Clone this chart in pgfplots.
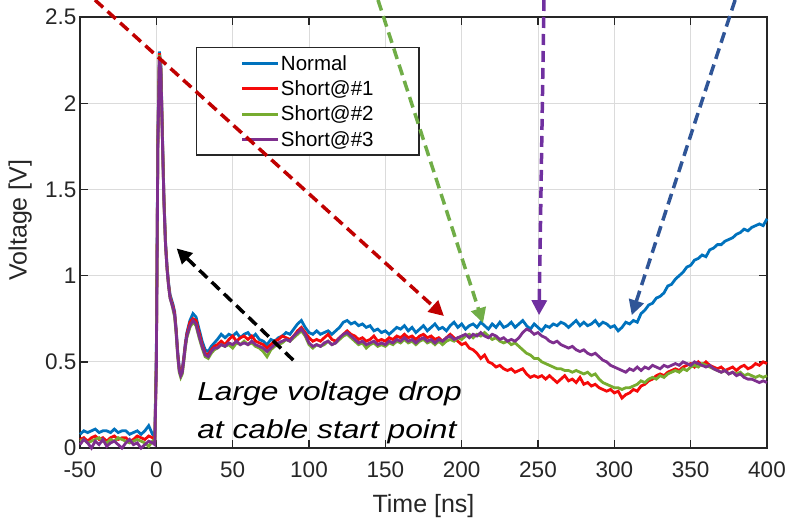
\documentclass[border=0pt]{standalone}
\usepackage{fontspec}
\setmainfont{Liberation Sans}
\usepackage{graphicx}
\usepackage{pgfplots}
\pgfplotsset{compat=1.18}
\usepackage{pgfplotstable}
\usetikzlibrary{arrows.meta}
\definecolor{cN}{RGB}{0,114,189}
\definecolor{cR}{RGB}{245,10,10}
\definecolor{cG}{RGB}{119,172,48}
\definecolor{cP}{RGB}{126,47,142}
\definecolor{aR}{RGB}{192,0,0}
\definecolor{aG}{RGB}{112,173,71}
\definecolor{aP}{RGB}{112,48,160}
\definecolor{aB}{RGB}{47,85,151}
\pgfplotstableread{
x normal s1 s2 s3
-50 0.08 0.05 0.04 0.02
-47.5 0.10 0.06 0.05 0.05
-45 0.09 0.04 0.03 0.03
-42.5 0.10 0.06 0.04 0.00
-40 0.11 0.07 0.05 0.04
-37.5 0.09 0.05 0.06 0.02
-35 0.10 0.06 0.04 0.05
-32.5 0.10 0.04 0.03 0.01
-30 0.09 0.06 0.05 0.03
-27.5 0.11 0.07 0.04 0.04
-25 0.09 0.05 0.06 0.02
-22.5 0.10 0.06 0.05 0.00
-20 0.10 0.06 0.04 0.03
-17.5 0.08 0.04 0.03 0.05
-15 0.09 0.05 0.04 0.02
-12.5 0.10 0.07 0.05 0.03
-10 0.08 0.06 0.04 0.00
-7.5 0.10 0.05 0.03 0.02
-5 0.13 0.07 0.01 0.04
-2.5 0.08 0.06 0.04 0.03
-1 0.07 0.05 0.03 0.02
0 0.55 0.50 0.50 0.45
1 1.80 1.78 1.77 1.75
2 2.30 2.29 2.28 2.27
3 2.22 2.20 2.20 2.18
4 1.82 1.80 1.79 1.78
5 1.45 1.44 1.43 1.42
6 1.20 1.19 1.18 1.18
7 1.06 1.05 1.04 1.04
8 0.96 0.95 0.94 0.94
9 0.89 0.88 0.87 0.87
10 0.86 0.85 0.84 0.84
11 0.83 0.82 0.80 0.81
12 0.79 0.78 0.76 0.77
13 0.69 0.68 0.66 0.67
14 0.56 0.55 0.53 0.54
15 0.47 0.46 0.44 0.45
16 0.44 0.43 0.41 0.42
17 0.46 0.45 0.43 0.44
18 0.53 0.52 0.50 0.51
19 0.61 0.60 0.58 0.59
20 0.67 0.66 0.64 0.65
22 0.74 0.73 0.70 0.71
24 0.78 0.75 0.73 0.74
26 0.76 0.74 0.71 0.72
28 0.69 0.67 0.64 0.65
30 0.62 0.60 0.58 0.59
32 0.57 0.55 0.53 0.54
34 0.56 0.54 0.52 0.53
36 0.59 0.57 0.55 0.56
38 0.61 0.59 0.57 0.58
40 0.63 0.60 0.58 0.58
42.5 0.66 0.62 0.60 0.60
45 0.64 0.60 0.59 0.59
47.5 0.66 0.63 0.60 0.61
50 0.65 0.65 0.58 0.60
52.5 0.67 0.62 0.61 0.62
55 0.64 0.64 0.60 0.60
57.5 0.66 0.65 0.62 0.61
60 0.67 0.63 0.60 0.60
62.5 0.64 0.65 0.61 0.62
65 0.66 0.62 0.59 0.60
67.5 0.63 0.61 0.58 0.59
70 0.62 0.60 0.56 0.58
72.5 0.60 0.58 0.53 0.56
75 0.63 0.60 0.57 0.58
77.5 0.62 0.62 0.59 0.60
80 0.64 0.63 0.60 0.61
82.5 0.65 0.65 0.61 0.62
85 0.67 0.64 0.63 0.63
87.5 0.66 0.63 0.62 0.62
90 0.69 0.65 0.64 0.65
92.5 0.72 0.68 0.66 0.67
95 0.74 0.70 0.68 0.69
97.5 0.70 0.67 0.65 0.66
100 0.67 0.64 0.60 0.61
102.5 0.66 0.62 0.58 0.59
105 0.68 0.63 0.60 0.60
107.5 0.66 0.62 0.59 0.59
110 0.67 0.64 0.60 0.61
112.5 0.68 0.66 0.62 0.62
115 0.66 0.63 0.60 0.60
117.5 0.68 0.62 0.61 0.61
120 0.70 0.64 0.63 0.64
122.5 0.73 0.66 0.65 0.66
125 0.74 0.68 0.66 0.67
127.5 0.72 0.66 0.64 0.65
130 0.73 0.65 0.62 0.63
132.5 0.71 0.63 0.60 0.61
135 0.72 0.64 0.61 0.62
137.5 0.70 0.62 0.58 0.60
140 0.71 0.63 0.60 0.61
142.5 0.68 0.65 0.61 0.62
145 0.69 0.62 0.59 0.60
147.5 0.67 0.63 0.60 0.61
150 0.68 0.62 0.59 0.60
152.5 0.66 0.64 0.61 0.62
155 0.68 0.63 0.60 0.61
157.5 0.70 0.65 0.62 0.63
160 0.69 0.64 0.61 0.62
162.5 0.71 0.66 0.63 0.64
165 0.68 0.64 0.61 0.62
167.5 0.70 0.65 0.62 0.63
170 0.67 0.63 0.60 0.61
172.5 0.69 0.65 0.62 0.63
175 0.71 0.66 0.63 0.64
177.5 0.68 0.64 0.61 0.62
180 0.70 0.65 0.62 0.63
182.5 0.72 0.63 0.60 0.61
185 0.69 0.64 0.62 0.63
187.5 0.70 0.62 0.60 0.62
190 0.68 0.64 0.62 0.64
192.5 0.71 0.66 0.63 0.65
195 0.73 0.64 0.62 0.63
197.5 0.70 0.62 0.64 0.64
200 0.72 0.60 0.63 0.65
202.5 0.69 0.61 0.65 0.66
205 0.71 0.58 0.66 0.64
207.5 0.72 0.57 0.64 0.66
210 0.70 0.55 0.66 0.65
212.5 0.73 0.52 0.65 0.67
215 0.71 0.54 0.67 0.65
217.5 0.69 0.50 0.65 0.64
220 0.72 0.49 0.63 0.66
222.5 0.70 0.47 0.64 0.65
225 0.73 0.48 0.62 0.63
227.5 0.70 0.46 0.61 0.64
230 0.71 0.45 0.62 0.62
232.5 0.73 0.46 0.60 0.63
235 0.70 0.44 0.61 0.62
237.5 0.72 0.45 0.59 0.64
240 0.74 0.46 0.57 0.67
242.5 0.71 0.43 0.55 0.69
245 0.69 0.41 0.54 0.68
247.5 0.72 0.42 0.52 0.66
250 0.70 0.41 0.52 0.67
252.5 0.68 0.42 0.50 0.65
255 0.71 0.40 0.49 0.64
257.5 0.70 0.42 0.48 0.62
260 0.72 0.40 0.47 0.61
262.5 0.71 0.38 0.46 0.62
265 0.73 0.40 0.46 0.60
267.5 0.72 0.42 0.45 0.59
270 0.70 0.39 0.45 0.58
272.5 0.72 0.40 0.44 0.59
275 0.74 0.38 0.45 0.57
277.5 0.71 0.41 0.44 0.56
280 0.73 0.37 0.43 0.57
282.5 0.71 0.38 0.44 0.55
285 0.72 0.36 0.42 0.54
287.5 0.74 0.37 0.43 0.55
290 0.71 0.35 0.40 0.53
292.5 0.73 0.34 0.38 0.51
295 0.72 0.33 0.37 0.50
297.5 0.70 0.34 0.36 0.48
300 0.71 0.32 0.35 0.47
302.5 0.68 0.33 0.35 0.46
305 0.70 0.29 0.34 0.45
307.5 0.73 0.31 0.35 0.44
310 0.72 0.32 0.35 0.46
312.5 0.74 0.34 0.36 0.45
315 0.73 0.33 0.37 0.47
317.5 0.78 0.36 0.39 0.45
320 0.80 0.37 0.38 0.47
322.5 0.83 0.39 0.40 0.46
325 0.84 0.40 0.41 0.48
327.5 0.87 0.42 0.40 0.47
330 0.88 0.43 0.42 0.46
332.5 0.90 0.42 0.41 0.48
335 0.94 0.44 0.43 0.47
337.5 0.95 0.45 0.44 0.48
340 0.98 0.46 0.45 0.49
342.5 1.00 0.45 0.44 0.48
345 1.02 0.47 0.46 0.50
347.5 1.05 0.48 0.45 0.49
350 1.06 0.49 0.47 0.48
352.5 1.09 0.47 0.48 0.50
355 1.10 0.50 0.47 0.49
357.5 1.12 0.48 0.49 0.48
360 1.11 0.50 0.48 0.47
362.5 1.15 0.48 0.47 0.48
365 1.16 0.47 0.46 0.46
367.5 1.18 0.46 0.45 0.45
370 1.18 0.47 0.44 0.44
372.5 1.20 0.45 0.45 0.45
375 1.21 0.46 0.43 0.43
377.5 1.22 0.47 0.44 0.44
380 1.24 0.45 0.43 0.42
382.5 1.25 0.47 0.44 0.43
385 1.27 0.48 0.42 0.41
387.5 1.26 0.46 0.43 0.40
390 1.28 0.47 0.42 0.40
392.5 1.29 0.49 0.41 0.39
395 1.30 0.48 0.42 0.38
397.5 1.29 0.50 0.41 0.39
400 1.33 0.49 0.42 0.38
}\datatable

\begin{document}
\begin{tikzpicture}
\begin{axis}[
  scale only axis, width=687pt, height=431pt,
  xmin=-50, xmax=400, ymin=0, ymax=2.5,
  xtick={-50,0,50,100,150,200,250,300,350,400},
  xticklabels={-50,0,50,100,150,200,250,300,350,400},
  ytick={0,0.5,1,1.5,2,2.5},
  yticklabels={0,0.5,1,1.5,2,2.5},
  tick align=inside, tick pos=both, major tick length=8pt,
  grid=major, grid style={line width=0.9pt, black!14},
  axis line style={black!85, line width=1.4pt},
  tick style={black!85, line width=1.4pt},
  clip=false,
  /pgf/number format/assume math mode=true,
  ticklabel style={font=\fontsize{22.5}{27}\selectfont, text=black!85},
  xticklabel style={yshift=-10pt},
  xlabel={Time [ns]}, ylabel={Voltage [V]},
  label style={font=\fontsize{25}{30}\selectfont, text=black!85},
  xlabel style={at={(axis description cs:0.5,-0.1485)}, anchor=base},
  ylabel style={at={(axis description cs:-0.087,0.529)}, anchor=center},
  legend style={at={(axis cs:26.0,2.326)}, anchor=north west, draw=black!85, line width=1.3pt, fill=white,
    font=\fontsize{20.5}{24}\selectfont, inner xsep=44pt, inner ysep=3pt,
    nodes={inner xsep=1.5pt, inner ysep=4.5pt}},
  legend cell align=left,
  legend image code/.code={\draw[#1, line width=2.8pt] (0pt,0pt) -- (36pt,0pt);},
]
\addplot[cN, line width=2.8pt] table[x=x, y=normal] {\datatable};
\addlegendentry{Normal}
\addplot[cR, line width=2.8pt] table[x=x, y=s1] {\datatable};
\addlegendentry{Short@\#1}
\addplot[cG, line width=2.8pt] table[x=x, y=s2] {\datatable};
\addlegendentry{Short@\#2}
\addplot[cP, line width=2.8pt] table[x=x, y=s3] {\datatable};
\addlegendentry{Short@\#3}

\node[anchor=base west, inner sep=0pt] at (axis cs:26.7,0.278) {\scalebox{1.22}[1]{\fontsize{26}{30}\selectfont\itshape Large voltage drop}};
\node[anchor=base west, inner sep=0pt] at (axis cs:26.7,0.058) {\scalebox{1.22}[1]{\fontsize{26}{30}\selectfont\itshape at cable start point}};

\coordinate (rS) at (axis cs:-40.2,2.599);
\coordinate (rE) at (axis cs:188.4,0.766);
\coordinate (gS) at (axis cs:145.2,2.599);
\coordinate (gE) at (axis cs:214.0,0.725);
\coordinate (pS) at (axis cs:253.9,2.599);
\coordinate (pE) at (axis cs:250.7,0.771);
\coordinate (bS) at (axis cs:379.1,2.599);
\coordinate (bE) at (axis cs:311.4,0.771);
\coordinate (kS) at (axis cs:89.7,0.51);
\coordinate (kE) at (axis cs:13.3,1.158);
\coordinate (bbsw) at (axis cs:-102.4,-0.412);
\coordinate (bbne) at (axis cs:413.1,2.599);
\end{axis}
\tikzset{arr/.style={line width=3.5pt, dash pattern=on 11pt off 6pt, -{Triangle[length=15pt,width=15pt]}}}
\draw[arr, aR] (rS) -- (rE);
\draw[arr, aG] (gS) -- (gE);
\draw[arr, aP] (pS) -- (pE);
\draw[arr, aB] (bS) -- (bE);
\draw[arr, black] (kS) -- (kE);
\pgfresetboundingbox
\useasboundingbox (bbsw) rectangle (bbne);
\end{tikzpicture}
\end{document}
